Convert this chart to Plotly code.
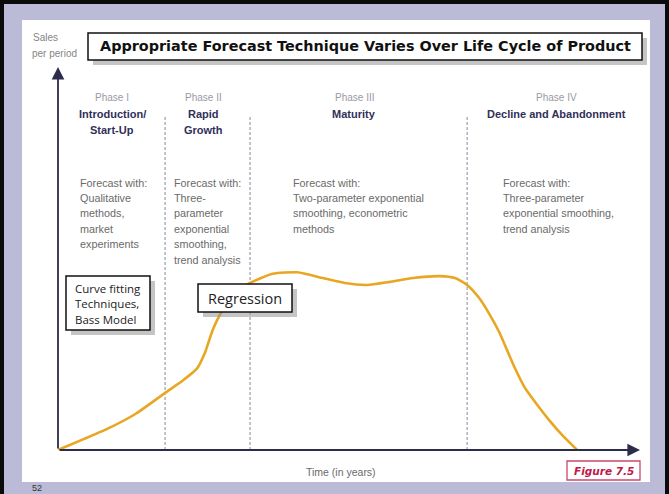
import plotly.graph_objects as go

# ---------------- data ----------------
time_vals = [0, 4.5, 9.0, 13.5, 18.4, 21.5, 23.9, 25.3, 26.6, 28.2, 30.4, 33.0,
             36.9, 41.1, 45.5, 49.3, 53.1, 57.0, 61.0, 65.6, 68.2, 70.3, 72.3,
             74.2, 75.8, 77.1, 78.5, 80.2, 82.2, 84.5, 86.8, 89.2]
sales_vals = [0, 2.9, 5.9, 9.6, 14.9, 18.2, 21.3, 25.6, 31.4, 36.3, 40.7, 43.6,
              46.0, 46.4, 44.9, 43.6, 43.1, 43.9, 44.9, 45.4, 44.9, 43.1, 39.8,
              35.3, 30.8, 26.3, 21.4, 16.3, 12.1, 7.6, 3.6, 0]
phase_bounds = [18.4, 33.0, 70.3]
phase_labels = ["Phase I", "Phase II", "Phase III", "Phase IV"]
phase_names = [["Introduction/", "Start-Up"], ["Rapid", "Growth"], ["Maturity"],
               ["Decline and Abandonment"]]
forecast_texts = [
    ["Forecast with:", "Qualitative", "methods,", "market", "experiments"],
    ["Forecast with:", "Three-", "parameter", "exponential", "smoothing,", "trend analysis"],
    ["Forecast with:", "Two-parameter exponential", "smoothing, econometric", "methods"],
    ["Forecast with:", "Three-parameter", "exponential smoothing,", "trend analysis"],
]
title_text = "Appropriate Forecast Technique Varies Over Life Cycle of Product"
y_label = ["Sales", "per period"]
x_label = "Time (in years)"
box1_lines = ["Curve fitting", "Techniques,", "Bass Model"]
box2_text = "Regression"
figure_tag = "Figure 7.5"
page_no = "52"

# ---------------- layout helpers (pixel -> paper) ----------------
W, H = 669, 494
L, R, T, B = 58, 640, 67, 450


def fx(p):
    return (p - L) / (R - L)


def fy(p):
    return (B - p) / (B - T)


fig = go.Figure()
fig.add_trace(go.Scatter(
    x=time_vals, y=sales_vals, mode="lines",
    line=dict(color="#E8A622", width=2.6, shape="spline", smoothing=0.55),
    hoverinfo="skip", showlegend=False))

shapes = []
# lavender frame and white panel
shapes.append(dict(type="rect", xref="paper", yref="paper", x0=fx(4), x1=fx(665),
                   y0=fy(4), y1=fy(500), fillcolor="#BBBBD8", line=dict(width=0),
                   layer="below"))
shapes.append(dict(type="rect", xref="paper", yref="paper", x0=fx(22), x1=fx(650),
                   y0=fy(20), y1=fy(482), fillcolor="#FFFFFF", line=dict(width=0),
                   layer="below"))
# phase dividers
for b in phase_bounds:
    shapes.append(dict(type="line", xref="x", yref="paper", x0=b, x1=b,
                       y0=0, y1=fy(117), line=dict(color="#A4A4B4", width=1.3, dash="3px,2px"),
                       layer="below"))


def boxed(x0, y0, x1, y1, border="#111111", bw=1.5, shadow=True):
    if shadow:
        shapes.append(dict(type="rect", xref="paper", yref="paper",
                           x0=fx(x0 + 5), x1=fx(x1 + 5), y0=fy(y0 + 5), y1=fy(y1 + 5),
                           fillcolor="rgba(150,150,150,0.55)", line=dict(width=0),
                           layer="above"))
    shapes.append(dict(type="rect", xref="paper", yref="paper",
                       x0=fx(x0), x1=fx(x1), y0=fy(y0), y1=fy(y1),
                       fillcolor="#FFFFFF", line=dict(color=border, width=bw),
                       layer="above"))


boxed(88, 33, 642, 60)
boxed(66, 276, 150, 330)
boxed(198, 284, 292, 312)
boxed(567, 461, 640, 480, border="#C8486A", bw=1.3, shadow=False)

ann = []


def txt(text, x, y, size, color, family="Liberation Sans, Arial, sans-serif",
        xanchor="left", bold=False, italic=False):
    t = text
    if bold:
        t = "<b>" + t + "</b>"
    if italic:
        t = "<i>" + t + "</i>"
    ann.append(dict(text=t, x=fx(x), y=fy(y), xref="paper", yref="paper",
                    xanchor=xanchor, yanchor="middle", showarrow=False,
                    font=dict(size=size, color=color, family=family)))


# axis arrows
ann.append(dict(x=100, y=0, ax=0, ay=0, xref="x", yref="y", axref="x", ayref="y",
                text="", showarrow=True, arrowhead=2, arrowsize=1.4, arrowwidth=1.8,
                arrowcolor="#2C2C4C"))
ann.append(dict(x=0, y=100, ax=0, ay=0, xref="x", yref="y", axref="x", ayref="y",
                text="", showarrow=True, arrowhead=2, arrowsize=1.4, arrowwidth=1.8,
                arrowcolor="#2C2C4C"))

# title
txt(title_text, 365, 46.5, 14.4, "#111111", family="DejaVu Sans, sans-serif",
    xanchor="center", bold=True)
# y label
txt(y_label[0], 31, 38, 10, "#858585")
txt(y_label[1], 30, 53, 10, "#858585")
# x label
txt(x_label, 341, 472, 10.5, "#6A6A6A", xanchor="center")

# phase headers
centers = [112, 203, 354, 556]
for i, c in enumerate(centers):
    txt(phase_labels[i], c, 98, 10, "#9A9AA4", xanchor="center")
    for j, line in enumerate(phase_names[i]):
        txt(line, c, 113.5 + j * 16, 11, "#30305A", xanchor="center", bold=True)

# forecast texts
lefts = [78, 172, 291, 501]
for i, lx in enumerate(lefts):
    for j, line in enumerate(forecast_texts[i]):
        txt(line, lx, 182.5 + j * 15.4, 10.8, "#6A6A6A")

# box texts
for j, line in enumerate(box1_lines):
    txt(line, 73, 288 + j * 15.5, 11.5, "#222222", family="Open Sans, DejaVu Sans, sans-serif")
txt(box2_text, 245, 298.5, 14.5, "#222222", family="Open Sans, DejaVu Sans, sans-serif",
    xanchor="center")

# figure tag
txt(figure_tag, 603.5, 470.5, 10.5, "#C0184A", family="DejaVu Sans, sans-serif",
    xanchor="center", bold=True, italic=True)
# page number
txt(page_no, 30, 487.5, 9, "#333333")

fig.update_layout(
    width=W, height=H,
    margin=dict(l=L, r=W - R, t=T, b=H - B, pad=0),
    paper_bgcolor="#0A0A0A",
    plot_bgcolor="rgba(0,0,0,0)",
    xaxis=dict(range=[0, 100], visible=False, fixedrange=True),
    yaxis=dict(range=[0, 100], visible=False, fixedrange=True),
    shapes=shapes,
    annotations=ann,
    showlegend=False,
)

fig.write_html("out.html", config={"displayModeBar": False})
